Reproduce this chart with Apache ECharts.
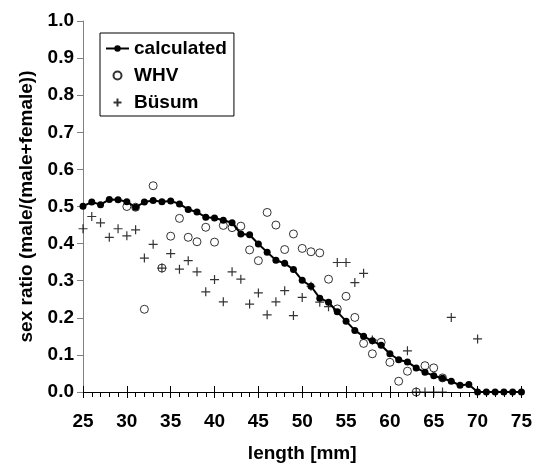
<!DOCTYPE html>
<html>
<head>
<meta charset="utf-8">
<script src="https://cdn.jsdelivr.net/npm/echarts@6/dist/echarts.min.js"></script>
<style>
  html, body { margin: 0; padding: 0; background: #fff; }
  #chart { width: 535px; height: 468px; }
</style>
</head>
<body>
<div id="chart"></div>
<script>
// Sex ratio by body length: fitted curve plus two field samples
const calcLength = [25,26,27,28,29,30,31,32,33,34,35,36,37,38,39,40,41,42,43,44,45,46,47,48,49,50,
  51,52,53,54,55,56,57,58,59,60,61,62,63,64,65,66,67,68,69,70,71,72,73,74,75];
const calcRatio = [0.501,0.512,0.505,0.519,0.518,0.513,0.498,0.512,0.516,0.513,
  0.515,0.507,0.492,0.485,0.471,0.469,0.463,0.456,0.426,0.424,
  0.399,0.377,0.355,0.347,0.330,0.301,0.285,0.253,0.242,0.216,
  0.191,0.166,0.150,0.138,0.126,0.103,0.087,0.081,0.065,0.053,
  0.044,0.037,0.029,0.018,0.020,0,0,0,0,0,0];

const whvLength = [30,31,32,33,34,35,36,37,38,39,40,41,42,43,44,45,46,47,48,49,50,
  51,52,53,54,55,56,57,58,59,60,61,62,63,64,65,66];
const whvRatio = [0.500,0.498,0.223,0.556,0.334,0.420,0.468,0.417,0.405,0.444,0.404,
  0.449,0.443,0.447,0.383,0.354,0.484,0.450,0.384,0.426,0.387,
  0.378,0.375,0.304,0.224,0.258,0.201,0.131,0.103,0.134,0.080,
  0.029,0.056,0,0.071,0.065,0.038];

const busumLength = [25,26,27,28,29,30,31,32,33,34,35,36,37,38,39,40,41,42,43,44,45,46,47,48,49,50,
  51,52,53,54,55,56,57,58,62,63,64,65,66,67,70];
const busumRatio = [0.440,0.473,0.456,0.417,0.440,0.421,0.437,0.361,0.398,0.334,
  0.373,0.331,0.354,0.324,0.270,0.303,0.243,0.324,0.304,0.237,
  0.267,0.208,0.243,0.273,0.206,0.255,0.285,0.242,0.230,0.349,
  0.349,0.295,0.320,0.140,0.111,0,0,0,0,0.201,0.143];

const xTicks = { min: 25, max: 75, step: 5 };
const yTicks = { min: 0, max: 1, step: 0.1 };

const zip = (xs, ys) => xs.map((x, i) => [x, ys[i]]);

const FONT = 'Liberation Sans';
const PLUS = 'path://M0,5L10,5M5,0L5,10';

const chart = echarts.init(document.getElementById('chart'), null, { renderer: 'canvas' });

chart.setOption({
  animation: false,
  backgroundColor: '#fff',
  textStyle: { fontFamily: FONT, fontWeight: 'bold', color: '#000' },
  grid: { left: 83, right: 11, top: 21, bottom: 74 },
  legend: {
    left: 100, top: 33,
    orient: 'vertical',
    borderColor: '#000', borderWidth: 1,
    padding: [6, 7, 4, 5],
    itemGap: 8,
    itemWidth: 23, itemHeight: 8,
    textStyle: { fontFamily: FONT, fontWeight: 'bold', fontSize: 19, color: '#000' },
    data: ['calculated', 'WHV', 'Büsum']
  },
  xAxis: [{
    type: 'value',
    min: xTicks.min, max: xTicks.max, interval: xTicks.step,
    name: 'length [mm]', nameLocation: 'middle', nameGap: 52,
    nameTextStyle: { fontFamily: FONT, fontWeight: 'bold', fontSize: 19, color: '#000' },
    axisLine: { onZero: false, lineStyle: { color: '#000', width: 1 } },
    axisTick: { show: true, length: 6, lineStyle: { color: '#000' } },
    minorTick: { show: true, splitNumber: 5, length: 5, lineStyle: { color: '#000' } },
    axisLabel: { margin: 20, fontFamily: FONT, fontWeight: 'bold', fontSize: 19, color: '#000' },
    splitLine: { show: false }
  }, {
    // inward half of the major ticks
    type: 'value', position: 'bottom',
    min: xTicks.min, max: xTicks.max, interval: xTicks.step,
    axisLine: { show: false },
    axisTick: { show: true, inside: true, length: 6, lineStyle: { color: '#000' } },
    axisLabel: { show: false },
    splitLine: { show: false }
  }],
  yAxis: {
    type: 'value',
    min: yTicks.min, max: yTicks.max, interval: yTicks.step,
    name: 'sex ratio (male/(male+female))', nameLocation: 'middle', nameGap: 46,
    nameTextStyle: { fontFamily: FONT, fontWeight: 'bold', fontSize: 19, color: '#000' },
    axisLine: { show: true, onZero: false, lineStyle: { color: '#808080', width: 1 } },
    axisTick: { show: true, length: 6, lineStyle: { color: '#808080' } },
    axisLabel: {
      margin: 9, fontFamily: FONT, fontWeight: 'bold', fontSize: 19, color: '#000',
      formatter: v => v.toFixed(1)
    },
    splitLine: { show: false }
  },
  series: [{
    name: 'calculated',
    type: 'line',
    data: zip(calcLength, calcRatio),
    symbol: 'circle', symbolSize: 7,
    showAllSymbol: true,
    lineStyle: { color: '#000', width: 2 },
    itemStyle: { color: '#000' },
    z: 3
  }, {
    name: 'WHV',
    type: 'scatter',
    data: zip(whvLength, whvRatio),
    symbol: 'circle', symbolSize: 8,
    itemStyle: { color: 'rgba(255,255,255,0)', borderColor: '#000', borderWidth: 1 },
    z: 4
  }, {
    name: 'Büsum',
    type: 'scatter',
    data: zip(busumLength, busumRatio),
    symbol: PLUS, symbolSize: 9,
    itemStyle: { color: 'none', borderColor: '#000', borderWidth: 1.2 },
    z: 4
  }]
});
</script>
</body>
</html>
